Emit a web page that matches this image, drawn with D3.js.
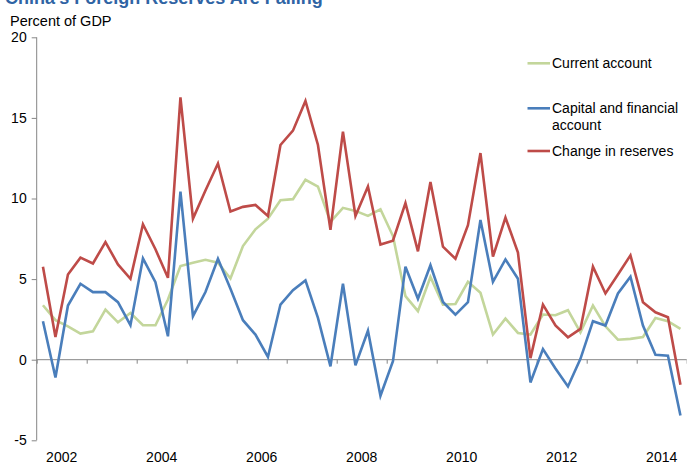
<!DOCTYPE html>
<html><head><meta charset="utf-8">
<script src="https://cdn.jsdelivr.net/npm/d3@7"></script>
<style>body{margin:0;background:#fff}svg{display:block}text{font-family:"Liberation Sans",Arial,sans-serif}</style>
</head><body><svg id="c" width="687" height="464"></svg>
<script>
const quarters = [
 "2002Q1","2002Q2","2002Q3","2002Q4","2003Q1","2003Q2","2003Q3","2003Q4",
 "2004Q1","2004Q2","2004Q3","2004Q4","2005Q1","2005Q2","2005Q3","2005Q4",
 "2006Q1","2006Q2","2006Q3","2006Q4","2007Q1","2007Q2","2007Q3","2007Q4",
 "2008Q1","2008Q2","2008Q3","2008Q4","2009Q1","2009Q2","2009Q3","2009Q4",
 "2010Q1","2010Q2","2010Q3","2010Q4","2011Q1","2011Q2","2011Q3","2011Q4",
 "2012Q1","2012Q2","2012Q3","2012Q4","2013Q1","2013Q2","2013Q3","2013Q4",
 "2014Q1","2014Q2","2014Q3","2014Q4"];
const currentAccount = [3.38,2.45,2.07,1.62,1.76,3.11,2.32,2.90,2.14,2.14,3.73,5.81,
 6.02,6.2,6.02,5.04,7.05,8.09,8.75,9.89,9.96,11.16,10.74,8.55,9.42,9.23,8.92,9.33,
 7.67,3.94,3.01,5.13,3.42,3.46,4.83,4.15,1.56,2.55,1.66,1.56,2.80,2.76,3.07,1.70,
 3.36,2.07,1.24,1.29,1.41,2.59,2.39,1.91];
const capitalFinancial = [2.38,-1.10,3.36,4.71,4.19,4.19,3.57,2.14,6.29,4.81,1.45,10.43,
 2.70,4.2,6.26,4.40,2.45,1.56,0.17,3.42,4.31,4.92,2.59,-0.41,4.71,-0.35,1.80,-2.24,
 -0.10,5.77,3.78,5.86,3.58,2.80,3.57,8.67,4.83,6.22,5.02,-1.41,0.66,-0.55,-1.66,0.05,
 2.39,2.12,4.11,5.15,2.12,0.31,0.25,-3.46];
const changeReserves = [5.77,1.41,5.29,6.33,5.97,7.30,5.91,5.02,8.40,6.85,5.08,16.28,
 8.75,10.5,12.17,9.19,9.48,9.60,8.92,13.32,14.21,16.05,13.32,8.05,14.15,8.92,10.74,7.14,
 7.38,9.71,6.72,11.02,7.01,6.26,8.34,12.82,6.39,8.82,6.64,0.10,3.42,2.12,1.39,1.91,
 5.77,4.11,5.29,6.47,3.57,2.94,2.63,-1.56];
const yearLabels = ["2002","2004","2006","2008","2010","2012","2014"];
const yTicks = [-5,0,5,10,15,20];
const seriesNames = ["Current account","Capital and financial account","Change in reserves"];
const seriesColors = ["#c3d69b","#4a7ebb","#be4b48"];

const svg = d3.select("#c");
const x = d3.scaleLinear().domain([2002,2015]).range([36.7,686.7]);
const y = d3.scaleLinear().domain([-5,20]).range([440.3,37.3]);
const qx = q => x(+q.slice(0,4) + (+q.slice(5)-0.5)/4);

// title (cut off at top)
svg.append("text").attr("x",5).attr("y",4).attr("font-size",18).attr("font-weight","bold")
  .attr("fill","#2f64a4").text("China's Foreign Reserves Are Falling");
svg.append("text").attr("x",10).attr("y",26).attr("font-size",14.5).attr("fill","#000").text("Percent of GDP");

// y axis
const yAxis = svg.append("g").attr("transform","translate(36.7,0)")
  .call(d3.axisLeft(y).tickValues(yTicks).tickSize(5).tickPadding(5).tickFormat(d=>String(d)));
yAxis.select(".domain").attr("stroke","#868686").attr("d","M0,37.3V440.3");
yAxis.selectAll(".tick line").attr("stroke","#868686");
yAxis.selectAll("text").attr("font-size",14).attr("fill","#000").attr("font-family","Liberation Sans, Arial");

// x axis along zero
const xAxis = svg.append("g").attr("transform",`translate(0,${y(0)})`)
  .call(d3.axisBottom(x).tickValues(d3.range(2002,2016)).tickSize(4).tickFormat(""));
xAxis.select(".domain").attr("stroke","#868686").attr("d",`M36.7,0H686.7`);
xAxis.selectAll(".tick line").attr("stroke","#868686");

svg.append("g").selectAll("text").data(yearLabels).join("text")
  .attr("x",d=>x(+d+0.5)).attr("y",462).attr("text-anchor","middle").attr("font-size",14)
  .attr("fill","#000").text(d=>d);

// lines
const allSeries = [currentAccount, capitalFinancial, changeReserves];
const line = d3.line().x((d,i)=>qx(quarters[i])).y(d=>y(d));
allSeries.forEach((s,k)=>{
  svg.append("path").datum(s).attr("d",line).attr("fill","none")
    .attr("stroke",seriesColors[k]).attr("stroke-width",2.6).attr("stroke-linejoin","miter");
});

// legend
const lg = svg.append("g");
const legY = [63.3,108.3,151];
seriesNames.forEach((n,k)=>{
  lg.append("line").attr("x1",527.5).attr("x2",550).attr("y1",legY[k]).attr("y2",legY[k])
    .attr("stroke",seriesColors[k]).attr("stroke-width",2.6);
  const t = lg.append("text").attr("x",552).attr("y",legY[k]+5).attr("font-size",14).attr("fill","#000");
  if(k===1){
    t.append("tspan").attr("x",552).text("Capital and financial");
    t.append("tspan").attr("x",552).attr("dy",17).text("account");
  } else t.text(n);
});
</script></body></html>
